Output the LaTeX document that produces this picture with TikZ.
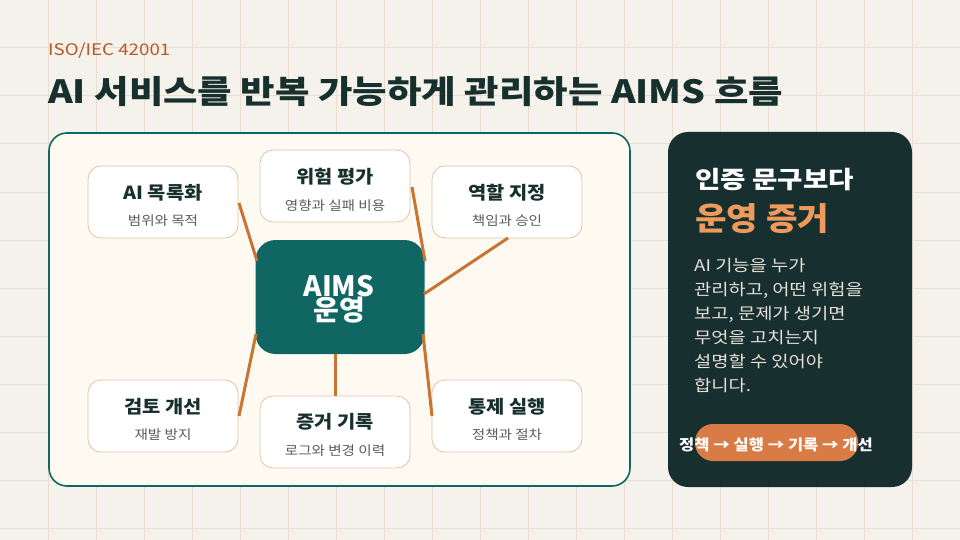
\documentclass[tikz,border=0pt]{standalone}
\usepackage{fontspec}
\usepackage{graphicx}
\setmainfont{Noto Sans CJK KR}
\newcommand{\widen}[2][1.15]{\scalebox{#1}[1]{#2}}
\begin{document}
\definecolor{bg}{HTML}{F5F2EB}
\definecolor{grid}{HTML}{E8DFD0}
\definecolor{teal}{HTML}{0F6663}
\definecolor{dark}{HTML}{17302E}
\definecolor{panel}{HTML}{FFFAF1}
\definecolor{rpanel}{HTML}{182F2F}
\definecolor{conn}{HTML}{C87533}
\definecolor{ochre}{HTML}{B5582A}
\definecolor{boxline}{HTML}{D9C6A8}
\definecolor{sub}{HTML}{5A5A5A}
\definecolor{hl}{HTML}{EE9A5C}
\definecolor{pill}{HTML}{D97B45}
\definecolor{body}{HTML}{E6E2DA}
\begin{tikzpicture}[x=1pt,y=-1pt,
  card/.style={draw=boxline,line width=0.8pt,fill=white,rounded corners=13pt,minimum width=150pt,minimum height=72pt,inner sep=0pt},
  link/.style={draw=conn,line width=3pt},
  ctitle/.style={font=\fontsize{18}{20}\selectfont\bfseries,text=dark},
  csub/.style={font=\fontsize{13}{14}\selectfont,text=sub}]
\useasboundingbox (0,0) rectangle (960,540);
\fill[bg] (0,0) rectangle (960,540);
\foreach \i in {48,96,...,912} \draw[grid,line width=1pt] (\i,0) -- (\i,540);
\foreach \j in {48,96,...,528} \draw[grid,line width=1pt] (0,\j) -- (960,\j);
\node[anchor=west,text=ochre,font=\fontsize{16}{18}\selectfont,inner sep=0pt] (kicker) at (48,51) {\widen[1.17]{ISO/IEC 42001}};
\node[anchor=west,text=dark,font=\fontsize{32}{36}\selectfont\bfseries,inner sep=0pt] (title) at (48,92) {\widen[1.17]{AI 서비스를 반복 가능하게 관리하는 AIMS 흐름}};
\draw[teal,line width=1.6pt,fill=panel,rounded corners=18pt] (49,133) rectangle (630,486);
% cards
\node[card] (c1) at (163,202) {};
\node[ctitle] (c1t) at (163,193) {\widen[1.1]{AI 목록화}};
\node[csub] (c1s) at (163,221) {\widen[1.12]{범위와 목적}};
\node[card] (c2) at (335,186) {};
\node[ctitle] (c2t) at (335,177) {\widen[1.1]{위험 평가}};
\node[csub] (c2s) at (335,206) {\widen[1.12]{영향과 실패 비용}};
\node[card] (c3) at (507,202) {};
\node[ctitle] (c3t) at (507,193) {\widen[1.1]{역할 지정}};
\node[csub] (c3s) at (507,221) {\widen[1.12]{책임과 승인}};
\node[card] (c4) at (163,416) {};
\node[ctitle] (c4t) at (163,407) {\widen[1.1]{검토 개선}};
\node[csub] (c4s) at (163,435) {\widen[1.12]{재발 방지}};
\node[card] (c5) at (335,432) {};
\node[ctitle] (c5t) at (335,422) {\widen[1.1]{증거 기록}};
\node[csub] (c5s) at (335,451) {\widen[1.12]{로그와 변경 이력}};
\node[card] (c6) at (507,416) {};
\node[ctitle] (c6t) at (507,407) {\widen[1.1]{통제 실행}};
\node[csub] (c6s) at (507,435) {\widen[1.12]{정책과 절차}};
% center
\node[fill=teal,rounded corners=20pt,minimum width=169pt,minimum height=114pt,inner sep=0pt] (core) at (340,297) {};
\node[text=white,align=center,font=\fontsize{28}{24}\selectfont\bfseries] (coret) at (339,299) {AIMS\\운영};
% connectors
\coordinate (p1) at (239,203); \coordinate (q1) at (257,261);
\coordinate (p2) at (412,187); \coordinate (q2) at (425,261);
\coordinate (p3) at (508,238); \coordinate (q3) at (424,294);
\coordinate (p4) at (239,416); \coordinate (q4) at (256,334);
\coordinate (p5) at (335,396); \coordinate (q5) at (335,354);
\coordinate (p6) at (432,416); \coordinate (q6) at (423,334);
\foreach \k in {1,...,6} \draw[link] (p\k) -- (q\k);
% right panel
\fill[rpanel,rounded corners=20pt] (668,132) rectangle (912,487);
\node[anchor=west,text=white,font=\fontsize{24}{26}\selectfont\bfseries,inner sep=0pt] (rt1) at (695,180) {\widen[1.15]{인증 문구보다}};
\node[anchor=west,text=hl,font=\fontsize{32}{34}\selectfont\bfseries,inner sep=0pt] (rt2) at (695,219) {\widen[1.07]{운영 증거}};
\node[anchor=north west,text=body,font=\fontsize{16}{24}\selectfont,inner sep=0pt] (rbody) at (694,254) {\widen[1.17]{\begin{tabular}{@{}l@{}}AI 기능을 누가\\관리하고, 어떤 위험을\\보고, 문제가 생기면\\무엇을 고치는지\\설명할 수 있어야\\합니다.\end{tabular}}};
\fill[pill,rounded corners=18pt] (695,424) rectangle (858,461);
\node[text=white,font=\fontsize{15}{16}\selectfont\bfseries] (flow) at (776,445) {\widen[1.1]{정책 → 실행 → 기록 → 개선}};
\end{tikzpicture}
\end{document}
